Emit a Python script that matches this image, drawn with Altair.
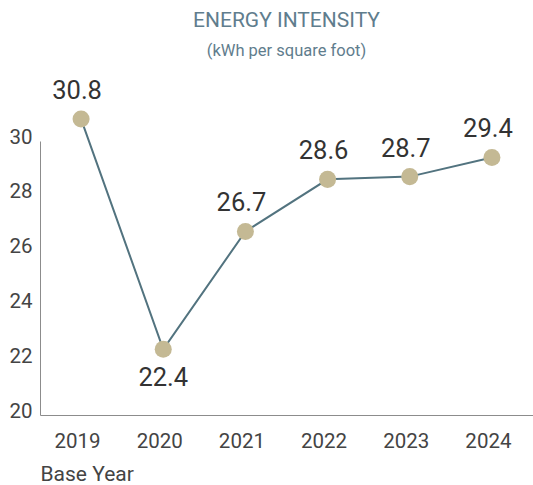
import altair as alt
import pandas as pd

years = ["2019", "2020", "2021", "2022", "2023", "2024"]
values = [30.8, 22.4, 26.7, 28.6, 28.7, 29.4]
y_ticks = [20, 22, 24, 26, 28, 30]

df = pd.DataFrame({"year": years, "value": values})
df["label"] = df["value"].map(lambda v: f"{v:.1f}")

FONT = "Roboto"

x = alt.X(
    "year:N",
    sort=years,
    scale=alt.Scale(type="point", padding=0.5),
    axis=alt.Axis(
        title="Base Year",
        titleAnchor="start",
        titleAlign="left",
        titleFont=FONT,
        titleFontSize=21,
        titleFontWeight="normal",
        titleColor="#444444",
        titlePadding=12,
        labelFont=FONT,
        labelFontSize=20.5,
        labelColor="#444444",
        labelPadding=16,
        labelOffset=-4,
        labelAngle=0,
        ticks=False,
        grid=False,
        domainColor="#8c8c8c",
    ),
)
y = alt.Y(
    "value:Q",
    scale=alt.Scale(domain=[20, 30], nice=False, zero=False),
    axis=alt.Axis(
        title=None,
        values=y_ticks,
        labelFont=FONT,
        labelFontSize=20.5,
        labelColor="#444444",
        labelPadding=8,
        labelOffset=-4,
        ticks=False,
        grid=False,
        domainColor="#8c8c8c",
    ),
)

base = alt.Chart(df).encode(x=x, y=y)

line = base.mark_line(color="#52737f", strokeWidth=2, clip=False)
points = base.mark_circle(color="#c4b994", opacity=1, size=290, clip=False)
labels_up = base.transform_filter(alt.datum.year != "2020").mark_text(
    font=FONT, fontSize=25.5, color="#333333", dy=-28, dx=-4, baseline="middle"
).encode(text="label:N")
labels_down = base.transform_filter(alt.datum.year == "2020").mark_text(
    font=FONT, fontSize=25.5, color="#333333", dy=29, baseline="middle"
).encode(text="label:N")

chart = (
    alt.layer(line, points, labels_up, labels_down)
    .properties(
        width=493,
        height=274,
        title=alt.TitleParams(
            text="ENERGY INTENSITY",
            subtitle="(kWh per square foot)",
            font=FONT,
            fontSize=21,
            fontWeight="normal",
            color="#5f7d8d",
            subtitleFont=FONT,
            subtitleFontSize=16.5,
            subtitleColor="#5f7d8d",
            subtitlePadding=12,
            anchor="middle",
            frame="group",
            offset=20,
        ),
        autosize=alt.AutoSizeParams(type="none"),
        padding={"left": 40, "top": 141, "right": 0, "bottom": 70},
    )
    .configure(background="white")
    .configure_view(stroke=None)
)

chart.save("out.html", embed_options={"renderer": "svg", "actions": False})
